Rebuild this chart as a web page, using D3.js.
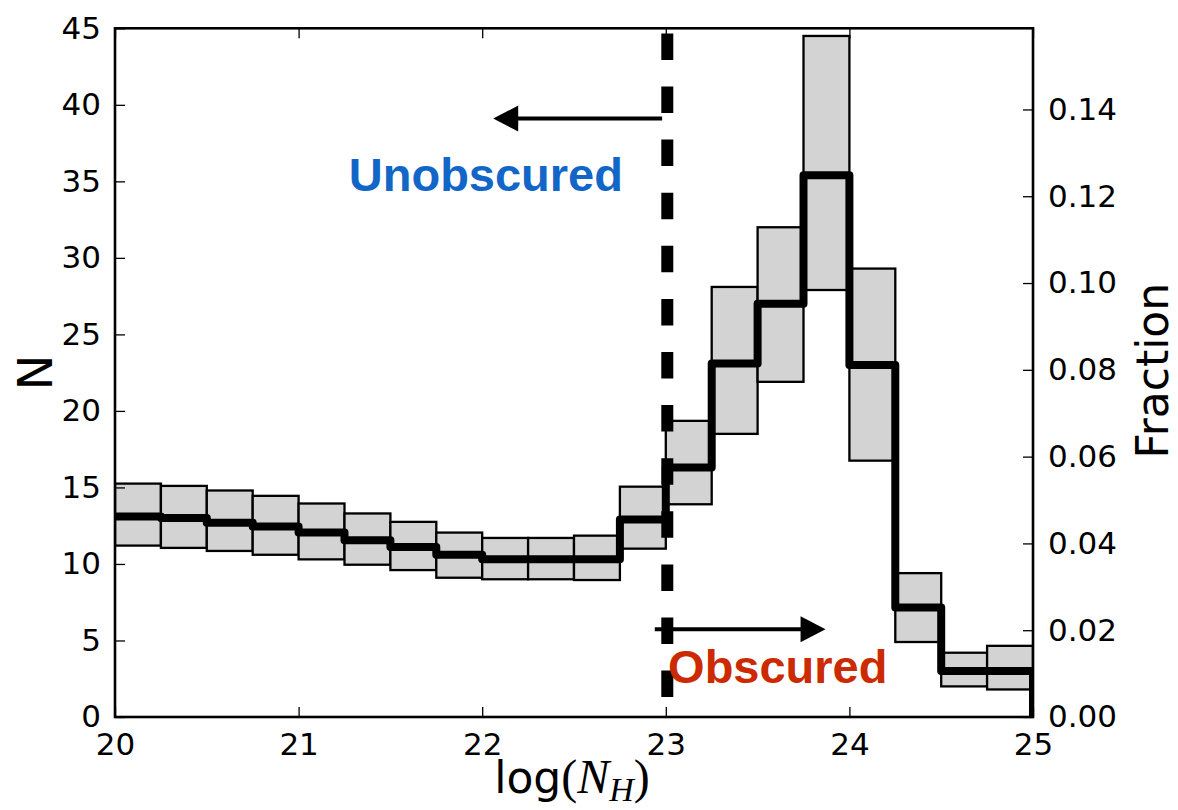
<!DOCTYPE html>
<html>
<head>
<meta charset="utf-8">
<script src="https://cdn.jsdelivr.net/npm/d3@7"></script>
<style>
  html, body { margin: 0; padding: 0; background: #fff; }
  svg { display: block; }
</style>
</head>
<body>
<script>
// ---------------- data ----------------
const binStart = [20.0, 20.25, 20.5, 20.75, 21.0, 21.25, 21.5, 21.75, 22.0, 22.25,
                  22.5, 22.75, 23.0, 23.25, 23.5, 23.75, 24.0, 24.25, 24.5, 24.75];
const binWidth = 0.25;
const medianN = [13.1, 13.0, 12.7, 12.45, 12.05, 11.55, 11.1, 10.6, 10.3, 10.3,
                 10.3, 12.9, 16.3, 23.1, 27.0, 35.4, 23.0, 7.15, 3.0, 3.0];
const lowerN  = [11.2, 11.05, 10.85, 10.6, 10.3, 9.95, 9.6, 9.1, 9.0, 9.0,
                 8.95, 11.0, 13.9, 18.5, 21.9, 27.9, 16.75, 4.9, 2.0, 1.8];
const upperN  = [15.25, 15.1, 14.8, 14.45, 13.95, 13.3, 12.75, 12.05, 11.7, 11.7,
                 11.85, 15.05, 19.35, 28.1, 32.0, 44.5, 29.3, 9.4, 4.2, 4.65];
const xTicks = [20, 21, 22, 23, 24, 25];
const yTicks = [0, 5, 10, 15, 20, 25, 30, 35, 40, 45];
const fracTicks = [0.00, 0.02, 0.04, 0.06, 0.08, 0.10, 0.12, 0.14];
const xDomain = [20, 25];
const yDomain = [0, 45];
const fracDomain = [0, 0.1587];
const divider = 23;
const arrowLeft  = {x0: 22.98, x1: 22.06, y: 39.1};
const arrowRight = {x0: 22.94, x1: 23.87, y: 5.73};
const labelUnobscured = {text: "Unobscured", x: 22.02, y: 34.35};
const labelObscured   = {text: "Obscured",   x: 23.61, y: 2.2};

// ---------------- layout ----------------
const W = 1178, H = 810;
const L = 115, R = 1033, T = 28.3, B = 717;
const tickFont = "'DejaVu Sans', sans-serif";

const svg = d3.select("body").append("svg").attr("width", W).attr("height", H);

const x = d3.scaleLinear().domain(xDomain).range([L, R]);
const y = d3.scaleLinear().domain(yDomain).range([B, T]);
const yf = d3.scaleLinear().domain(fracDomain).range([B, T]);

svg.append("defs").append("clipPath").attr("id", "plotclip")
  .append("rect").attr("x", L).attr("y", T).attr("width", R - L).attr("height", B - T);

const plot = svg.append("g").attr("clip-path", "url(#plotclip)");

// boxes
plot.selectAll("rect.box").data(binStart).join("rect")
  .attr("class", "box")
  .attr("x", d => x(d))
  .attr("width", d => x(d + binWidth) - x(d))
  .attr("y", (d, i) => y(upperN[i]))
  .attr("height", (d, i) => y(lowerN[i]) - y(upperN[i]))
  .attr("fill", "#d3d3d3")
  .attr("stroke", "#000")
  .attr("stroke-width", 2.3);

// step line
const stepPts = [];
binStart.forEach((d, i) => {
  stepPts.push([d, medianN[i]]);
  stepPts.push([d + binWidth, medianN[i]]);
});
stepPts.push([binStart[binStart.length - 1] + binWidth, 0]);
plot.append("path")
  .attr("d", d3.line().x(p => x(p[0])).y(p => y(p[1]))(stepPts))
  .attr("fill", "none")
  .attr("stroke", "#000")
  .attr("stroke-width", 8)
  .attr("stroke-linejoin", "round");

// dashed divider
plot.append("line")
  .attr("x1", x(divider) + 1.5).attr("x2", x(divider) + 1.5)
  .attr("y1", y(yDomain[1])).attr("y2", y(yDomain[0]))
  .attr("stroke", "#000")
  .attr("stroke-width", 12)
  .attr("stroke-dasharray", "26.5 26.6")
  .attr("stroke-dashoffset", 48);

// arrows
function arrow(a) {
  const dir = Math.sign(a.x1 - a.x0);
  const xt = x(a.x1), yy = y(a.y);
  const headL = 25, headW = 13;
  svg.append("line")
    .attr("x1", x(a.x0)).attr("x2", xt - dir * headL * 0.8)
    .attr("y1", yy).attr("y2", yy)
    .attr("stroke", "#000").attr("stroke-width", 4);
  svg.append("path")
    .attr("d", `M${xt},${yy} L${xt - dir * headL},${yy - headW} L${xt - dir * headL},${yy + headW} Z`)
    .attr("fill", "#000");
}
arrow(arrowLeft);
arrow(arrowRight);

// region labels
svg.append("text")
  .attr("x", x(labelUnobscured.x)).attr("y", y(labelUnobscured.y))
  .attr("text-anchor", "middle")
  .attr("font-family", "'Liberation Sans', Arial, sans-serif")
  .attr("font-weight", "bold").attr("font-size", 47)
  .attr("fill", "#1166c8")
  .text(labelUnobscured.text);
svg.append("text")
  .attr("x", x(labelObscured.x)).attr("y", y(labelObscured.y))
  .attr("text-anchor", "middle")
  .attr("font-family", "'Liberation Sans', Arial, sans-serif")
  .attr("font-weight", "bold").attr("font-size", 47)
  .attr("fill", "#cc2a00")
  .text(labelObscured.text);

// axes (ticks inward)
const tickLen = 10;
const axG = svg.append("g");
function styleAxis(g) {
  g.select(".domain").remove();
  g.selectAll(".tick line").attr("stroke", "#000").attr("stroke-width", 1.3);
  g.selectAll(".tick text").attr("font-family", tickFont).attr("font-size", 31).attr("fill", "#000");
}
const bottomAx = axG.append("g").attr("transform", `translate(0,${B})`)
  .call(d3.axisBottom(x).tickValues(xTicks).tickFormat(d3.format("d")).tickSizeInner(-tickLen).tickPadding(16))
  .call(styleAxis);
axG.append("g").attr("transform", `translate(0,${T})`)
  .call(d3.axisTop(x).tickValues(xTicks).tickFormat("").tickSizeInner(-tickLen))
  .call(styleAxis);
const leftAx = axG.append("g").attr("transform", `translate(${L},0)`)
  .call(d3.axisLeft(y).tickValues(yTicks).tickFormat(d3.format("d")).tickSizeInner(-tickLen).tickPadding(14))
  .call(styleAxis);
const rightAx = axG.append("g").attr("transform", `translate(${R},0)`)
  .call(d3.axisRight(yf).tickValues(fracTicks).tickFormat(d3.format(".2f")).tickSizeInner(-tickLen).tickPadding(15))
  .call(styleAxis);
leftAx.selectAll(".tick text").attr("dy", "0.32em");
rightAx.selectAll(".tick text").attr("dy", "0.32em");
bottomAx.selectAll(".tick text").attr("dy", "0.71em");

// frame
svg.append("rect")
  .attr("x", L).attr("y", T).attr("width", R - L).attr("height", B - T)
  .attr("fill", "none").attr("stroke", "#000").attr("stroke-width", 2.6);

// axis titles
svg.append("text")
  .attr("transform", `translate(52,${(T + B) / 2}) rotate(-90)`)
  .attr("text-anchor", "middle")
  .attr("font-family", tickFont).attr("font-size", 48)
  .text("N");
svg.append("text")
  .attr("transform", `translate(1168,${(T + B) / 2 - 2}) rotate(-90)`)
  .attr("text-anchor", "middle")
  .attr("font-family", tickFont).attr("font-size", 44)
  .text("Fraction");

const xl = svg.append("text")
  .attr("x", (L + R) / 2 - 2).attr("y", 793)
  .attr("text-anchor", "middle")
  .attr("font-size", 48);
xl.append("tspan").attr("font-family", tickFont).attr("font-size", 44).text("log");
xl.append("tspan").attr("font-family", "'Liberation Serif', serif").text("(");
xl.append("tspan").attr("font-family", "'Liberation Serif', serif").attr("font-style", "italic").text("N");
xl.append("tspan").attr("font-family", "'Liberation Serif', serif").attr("font-style", "italic")
  .attr("font-size", 34).attr("dy", 8).text("H");
xl.append("tspan").attr("font-family", "'Liberation Serif', serif").attr("dy", -8).text(")");
</script>
</body>
</html>
